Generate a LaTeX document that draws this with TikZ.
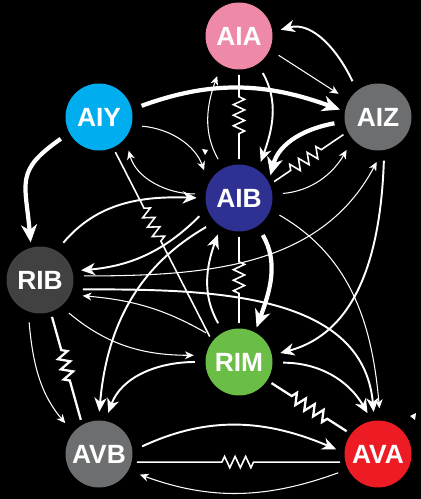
\documentclass[tikz,border=0pt]{standalone}
\usepackage{fontspec}
\setmainfont{Liberation Sans}
\usetikzlibrary{arrows.meta,decorations.pathmorphing}

\definecolor{aiacol}{RGB}{238,137,168}
\definecolor{aiycol}{RGB}{0,174,239}
\definecolor{aizcol}{RGB}{109,110,112}
\definecolor{aibcol}{RGB}{46,49,146}
\definecolor{ribcol}{RGB}{65,65,66}
\definecolor{rimcol}{RGB}{106,189,69}
\definecolor{avbcol}{RGB}{109,110,112}
\definecolor{avacol}{RGB}{237,28,36}

\tikzset{gapj/.style 2 args={white,line width=0.9pt,decorate,
	decoration={zigzag,amplitude=3.2pt,segment length=6pt,pre length=#1,post length=#2}}}

\begin{document}
\begin{tikzpicture}[x=0.02cm,y=-0.02cm]
	\tikzstyle{neuron}=[shape=circle,minimum size=1.34cm,inner sep=0pt,outer sep=3pt,text=white,font=\fontsize{15}{16}\selectfont\bfseries]
	\tikzstyle{thn}=[white,line width=0.6pt,shorten <=3pt,shorten >=4pt,-{Stealth[length=5pt,width=4.5pt,inset=1.5pt]}]
	\tikzstyle{mdm}=[white,line width=1.1pt,shorten <=3pt,shorten >=2pt,-{Stealth[length=8pt,width=7pt,inset=2.5pt]}]
	\tikzstyle{thk}=[white,line width=2.4pt,shorten <=3pt,shorten >=0pt,-{Stealth[length=10pt,width=9pt,inset=3pt]}]

	\fill[black] (0,0) rectangle (421,499);
	\useasboundingbox (0,0) rectangle (421,499);

	\node[neuron,fill=aiacol](aia) at (239,36){AIA};
	\node[neuron,fill=aiycol](aiy) at (99,117){AIY};
	\node[neuron,fill=aizcol](aiz) at (378,117){AIZ};
	\node[neuron,fill=aibcol](aib) at (239,198){AIB};
	\node[neuron,fill=ribcol](rib) at (40,280){RIB};
	\node[neuron,fill=rimcol](rim) at (239,362){RIM};
	\node[neuron,fill=avbcol](avb) at (99,454){AVB};
	\node[neuron,fill=avacol](ava) at (378,454){AVA};

	% gap junctions
	\draw[gapj={0.44cm}{0.48cm}] (aia) -- (aib);
	\draw[gapj={0.4cm}{0.47cm}] (aib.25) -- (aiz.207);
	\draw[gapj={1.26cm}{2.14cm}] (aiy.-65) -- (rim.139);
	\draw[gapj={0.5cm}{0.56cm}] (aib) -- (rim);
	\draw[gapj={0.69cm}{0.72cm},line width=1.3pt] (rib.-72) -- (avb.118);
	\draw[gapj={0.48cm}{0.39cm},line width=1.3pt] (rim.-33) -- (ava.144);
	\draw[gapj={1.7cm}{1.66cm}] (avb.-12) -- (ava.192);

	% top
	\draw[mdm] (aiz.127) to[out=115,in=15] (aia.8);
	\draw[thn] (aia.-25) -- (aiz.150);
	\draw[thk] (aiy.14) to[out=20,in=160] (aiz.169);
	\draw[thn] (aib.118) to[out=120,in=-110] (aia.-120);
	\draw[mdm] (aia.-57) to[out=-60,in=70] (aib.58);
	\draw[thk] (aiz.188) to[out=190,in=75] (aib.36);
	\draw[thn] (aib.6) to[out=5,in=-120] (aiz.224);
	\draw[thn] (aiy.-13) to[out=-5,in=110] (aib.147);
	\draw[thn] (aib.174) to[out=180,in=-75] (aiy.-44);
	\draw[thk] (aiy.209) to[out=215,in=95,looseness=1.4] (rib.104);

	% middle
	\draw[mdm] (rib.59) to[out=50,in=178] (aib.180);
	\draw[mdm] (aib.202) to[out=225,in=5] (rib.14);
	\draw[thn] (rib.6) to[out=0,in=-118] (aiz.-87);
	\draw[mdm] (rib.-14) to[out=0,in=95] (ava.96);
	\draw[thn] (rim.137) to[out=150,in=-5] (rib.-23);
	\draw[thn] (rib.-50) to[out=-40,in=180] (rim.170);
	\draw[mdm] (aib.223) to[out=210,in=85] (avb.90);
	\draw[thk] (aib.-57) to[out=-60,in=70] (rim.63);
	\draw[mdm] (rim.118) to[out=120,in=-110] (aib.-121);
	\draw[thn] (aib.-22) to[out=-30,in=95] (ava.87);
	\draw[mdm] (aiz.-81) to[out=-92,in=15] (rim.12);

	% bottom
	\draw[mdm] (rim.180) to[out=180,in=70] (avb.78);
	\draw[mdm] (rim.-1) to[out=0,in=120] (ava.103);
	\draw[mdm] (avb.8) to[out=25,in=157] (ava.175);
	\draw[thn] (ava.206) to[out=200,in=-20] (avb.-28);
	\draw[thn] (rib.-107) to[out=-85,in=130] (avb.139);

	\fill[white] (202,149) -- (208,150) -- (205,155) -- cycle;
	\fill[white] (410,416) -- (416,413) -- (415,420) -- cycle;
\end{tikzpicture}
\end{document}
